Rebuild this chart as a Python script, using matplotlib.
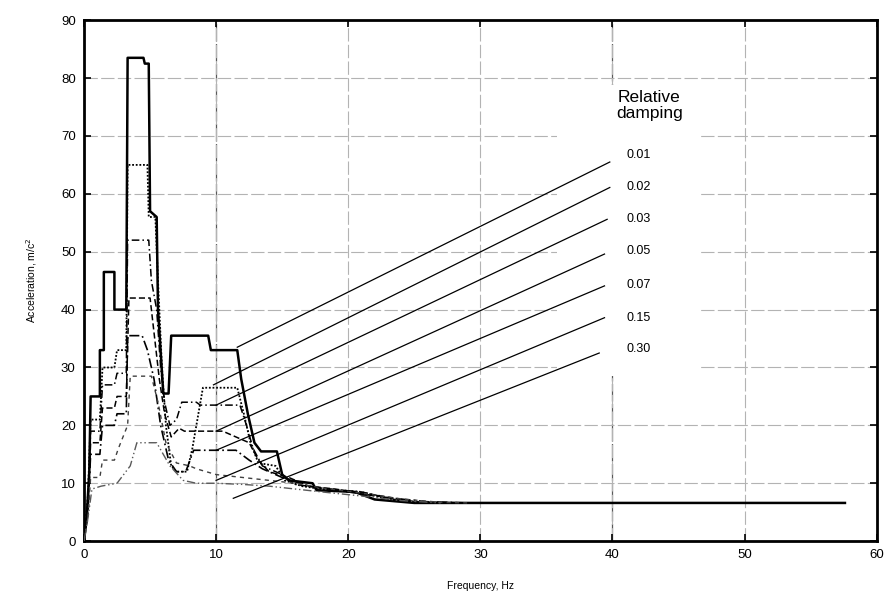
import matplotlib
matplotlib.use('Agg')
import matplotlib.pyplot as plt
from matplotlib.patches import Rectangle

plt.rcParams['font.family'] = ['Liberation Sans', 'DejaVu Sans']

# Response spectra (frequency Hz, acceleration m/c^2)
DAMPING = ['0.01', '0.02', '0.03', '0.05', '0.07', '0.15', '0.30']

F_001 = [0, 0.2, 0.4, 0.5, 1.2, 1.2, 1.5, 1.5, 2.3, 2.3, 3.2, 3.3, 4.5, 4.6, 4.9, 5.0, 5.5, 5.6,
         6.0, 6.4, 6.6, 9.4, 9.6, 11.6, 11.9, 12.4, 12.9, 13.4, 14.6, 15.0, 15.5, 17.3, 17.6,
         20.5, 22.0, 25.0, 57.6]
A_001 = [0, 4, 12, 25, 25, 33, 33, 46.5, 46.5, 40, 40, 83.5, 83.5, 82.5, 82.5, 57, 56, 40,
         25.5, 25.5, 35.5, 35.5, 33, 33, 28, 22, 17, 15.5, 15.5, 11.5, 10.5, 10, 8.8,
         8.5, 7.2, 6.6, 6.6]

F_002 = [0, 0.3, 0.5, 1.2, 1.4, 2.3, 2.5, 3.2, 3.3, 4.8, 4.9, 5.4, 5.6, 5.9, 6.2, 6.6, 7.0,
         7.8, 8.2, 9.0, 11.6, 12.1, 12.6, 13.2, 14.5, 15.2, 16.5, 18.0, 21.0, 23.0, 26.0, 29.0]
A_002 = [0, 8, 21, 21, 30, 30, 33, 33, 65, 65, 56, 56, 45, 30, 20, 13, 12,
         12, 16, 26.5, 26.5, 22, 17, 13.5, 13, 10.5, 9.5, 9, 8.5, 7.2, 6.6, 6.6]

F_003 = [0, 0.3, 0.5, 1.2, 1.4, 2.3, 2.5, 3.2, 3.3, 4.9, 5.1, 5.5, 5.8, 6.1, 6.5, 7.0, 7.4,
         8.5, 8.8, 11.8, 12.3, 12.8, 13.5, 15.0, 16.0, 18.5, 21.0, 23.5, 26.0, 28.0]
A_003 = [0, 7, 19, 19, 27, 27, 29, 29, 52, 52, 45, 40, 30, 24, 20, 21, 24,
         24, 23.5, 23.5, 20, 16, 13, 11.5, 9.8, 9, 8.5, 7.2, 6.6, 6.6]

F_005 = [0, 0.3, 0.5, 1.2, 1.4, 2.3, 2.5, 3.2, 3.4, 5.0, 5.3, 5.7, 6.1, 6.6, 7.2, 7.6,
         10.5, 11.0, 12.5, 13.2, 14.0, 15.5, 17.0, 19.0, 22.0, 25.0, 29.0]
A_005 = [0, 6, 17, 17, 23, 23, 25, 25, 42, 42, 36, 28, 22, 18, 19.5, 19,
         19, 18.5, 17, 14, 12, 11, 9.5, 9, 8, 6.8, 6.6]

F_007 = [0, 0.3, 0.5, 1.2, 1.4, 2.3, 2.5, 3.2, 3.3, 4.4, 4.8, 5.3, 5.8, 6.4, 7.0, 7.7, 8.3,
         11.5, 12.5, 13.5, 15.0, 17.0, 20.0, 23.0, 26.0, 29.0]
A_007 = [0, 5, 15, 15, 20, 20, 22, 22, 35.5, 35.5, 33, 28, 20, 14, 12, 12, 15.7,
         15.7, 14, 12.5, 11, 9.5, 8.5, 7.5, 6.8, 6.6]

F_015 = [0, 0.3, 0.5, 1.2, 1.4, 2.3, 2.6, 3.3, 3.5, 5.1, 5.6, 6.2, 7.0, 8.0, 8.5, 10.0,
         12.0, 14.0, 16.0, 18.0, 21.0, 24.0, 27.0, 29.0]
A_015 = [0, 4, 11, 11, 14, 14, 16, 20, 28.5, 28.5, 24, 17, 13.5, 13, 12.5, 11.5,
         11, 10.5, 10, 9.2, 8.3, 7.3, 6.7, 6.6]

F_030 = [0, 0.3, 0.6, 1.3, 2.5, 3.5, 4.0, 5.5, 6.5, 7.5, 8.5, 10.0, 12.0, 14.0, 16.0, 18.0,
         21.0, 24.0, 27.0]
A_030 = [0, 4, 9, 9.5, 10, 13, 17, 17, 13, 10.5, 10, 10, 9.8, 9.5, 9, 8.5,
         7.8, 7.0, 6.6]

FREQS = [F_001, F_002, F_003, F_005, F_007, F_015, F_030]
ACCS = [A_001, A_002, A_003, A_005, A_007, A_015, A_030]

# Leader lines from each spectrum to its damping label
LEADER_X0 = [11.6, 9.8, 10.0, 10.0, 10.0, 10.0, 11.3]
LEADER_Y0 = [33.5, 27.0, 23.5, 19.0, 15.7, 10.5, 7.4]
LEADER_X1 = [39.8, 39.8, 39.6, 39.4, 39.4, 39.4, 39.0]
LEADER_Y1 = [65.5, 61.1, 55.6, 49.6, 44.1, 38.6, 32.5]
LABEL_Y = [66.7, 61.1, 55.6, 50.1, 44.2, 38.5, 33.2]

STYLES = [
    dict(color='black', lw=1.8, ls='-'),
    dict(color='black', lw=1.3, ls=(0, (1, 1))),
    dict(color='black', lw=1.1, ls=(0, (5, 2, 1, 2))),
    dict(color='black', lw=1.1, ls=(0, (4, 2))),
    dict(color='black', lw=1.2, ls=(0, (6, 2, 1, 2))),
    dict(color='0.25', lw=1.0, ls=(0, (3, 3))),
    dict(color='0.35', lw=1.0, ls=(0, (6, 2, 1, 2, 1, 2))),
]

fig = plt.figure(figsize=(8.9, 5.94), dpi=100)
ax = fig.add_axes([0.0944, 0.089, 0.8906, 0.877])

ax.set_xlim(0, 60)
ax.set_ylim(0, 90)
ax.set_xticks(range(0, 61, 10))
ax.set_yticks(range(0, 91, 10))
ax.grid(True, color='0.7', lw=0.8, ls=(0, (12, 3)))
# the 10 and 40 Hz lines are drawn darker in the original
for xv in (10, 40):
    ax.axvline(xv, color='0.35', lw=0.9, ls=(0, (14, 2)), zorder=0.5)
ax.set_axisbelow(True)

# white area behind the damping labels
ax.add_patch(Rectangle((35.8, 28.6), 10.8, 50.2, facecolor='white', edgecolor='none', zorder=1.5))

for f, a, st in zip(FREQS, ACCS, STYLES):
    ax.plot(f, a, zorder=3, **st)

for x0, y0, x1, y1 in zip(LEADER_X0, LEADER_Y0, LEADER_X1, LEADER_Y1):
    ax.plot([x0, x1], [y0, y1], color='black', lw=0.9, zorder=3)

for lab, y in zip(DAMPING, LABEL_Y):
    ax.text(41.1, y, lab, fontsize=9, va='center', ha='left', zorder=4)

ax.text(42.8, 75.3, 'Relative\ndamping', fontsize=12.5, ha='center', va='center',
        linespacing=1.05, zorder=4)

ax.set_xlabel('Frequency, Hz', fontsize=7.5, labelpad=14)
ax.set_ylabel('Acceleration, m/c$^2$', fontsize=7.5, labelpad=16)
ax.tick_params(direction='in', length=5, width=1.2, labelsize=9.5,
               top=True, right=True, pad=6)
for s in ax.spines.values():
    s.set_linewidth(2)

fig.savefig('out.png', dpi=100, facecolor='white')
